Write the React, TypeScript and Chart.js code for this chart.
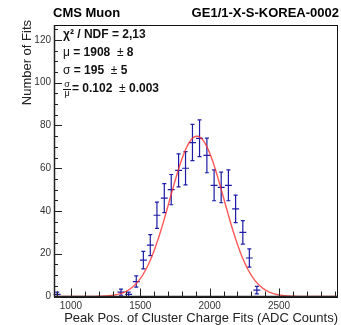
import React, { useEffect, useRef } from "react";
import { Chart, registerables } from "chart.js";

Chart.register(...registerables);

// ---- data ----
const binCenters = [901, 1361, 1416, 1471, 1522, 1572, 1620, 1673, 1723, 1776, 1826, 1876, 1927, 1980, 2032, 2083, 2135, 2187, 2239, 2286, 2340];
const counts = [1, 2, 1, 7, 17, 24, 38, 46, 50, 59, 60, 72, 74, 66, 52, 51, 52, 41, 30, 18, 3];
const binHalfWidth = 25;
const xTickLabels = [1000, 1500, 2000, 2500];
const yTickLabels = [0, 20, 40, 60, 80, 100, 120];
const fitAmplitude = 75;
const fitMean = 1908;
const fitSigma = 195;
const xMin = 878;
const xMax = 2925;
const yMin = 0;
const yMax = 127;

const FONT = '"Liberation Sans", Arial, Helvetica, sans-serif';

function gauss(x: number) {
  const z = (x - fitMean) / fitSigma;
  return fitAmplitude * Math.exp(-0.5 * z * z);
}

export default function App() {
  const ref = useRef<HTMLCanvasElement>(null);

  useEffect(() => {
    const canvas = ref.current!;
    const fitData: { x: number; y: number }[] = [];
    for (let x = xMin; x <= xMax; x += 8) fitData.push({ x, y: gauss(x) });
    const pts = binCenters.map((x, i) => ({ x, y: counts[i] }));

    const decor = {
      id: "decor",
      beforeDatasetsDraw(chart: any) {
        const ctx = chart.ctx;
        const xs = chart.scales.x;
        const ys = chart.scales.y;
        ctx.save();
        ctx.strokeStyle = "#1c1ca6";
        ctx.lineWidth = 1.2;
        binCenters.forEach((c, i) => {
          const n = counts[i];
          const err = Math.sqrt(n);
          const px = xs.getPixelForValue(c);
          const py = ys.getPixelForValue(n);
          const x0 = xs.getPixelForValue(c - binHalfWidth);
          const x1 = xs.getPixelForValue(c + binHalfWidth);
          const yt = ys.getPixelForValue(n + err);
          const yb = ys.getPixelForValue(Math.max(0, n - err));
          ctx.beginPath();
          ctx.moveTo(x0, py);
          ctx.lineTo(x1, py);
          ctx.moveTo(px, yt);
          ctx.lineTo(px, yb);
          ctx.moveTo(px - 2, yt);
          ctx.lineTo(px + 2, yt);
          ctx.moveTo(px - 2, yb);
          ctx.lineTo(px + 2, yb);
          ctx.stroke();
        });
        ctx.restore();
      },
      afterDraw(chart: any) {
        const ctx = chart.ctx;
        const a = chart.chartArea;
        const xs = chart.scales.x;
        const ys = chart.scales.y;
        ctx.save();
        // frame
        ctx.strokeStyle = "#111";
        ctx.lineWidth = 1;
        ctx.strokeRect(Math.round(a.left) + 0.5, Math.round(a.top) + 0.5, Math.round(a.right - a.left) - 1, Math.round(a.bottom - a.top));
        // axis lines (thicker)
        ctx.strokeStyle = "#222";
        ctx.lineWidth = 1.5;
        ctx.beginPath();
        ctx.moveTo(a.left + 0.5, a.top);
        ctx.lineTo(a.left + 0.5, a.bottom);
        ctx.lineTo(a.right, a.bottom);
        ctx.stroke();
        // ticks
        ctx.lineWidth = 1;
        ctx.strokeStyle = "#222";
        ctx.beginPath();
        for (let v = 900; v <= 2900; v += 100) {
          const px = Math.round(xs.getPixelForValue(v)) + 0.5;
          const len = v % 500 === 0 ? 8 : 5;
          ctx.moveTo(px, a.bottom);
          ctx.lineTo(px, a.bottom - len);
        }
        for (let v = 0; v <= 125; v += 5) {
          const py = Math.round(ys.getPixelForValue(v)) + 0.5;
          const len = v % 20 === 0 ? 8 : 4;
          ctx.moveTo(a.left, py);
          ctx.lineTo(a.left + len, py);
        }
        ctx.stroke();

        // header
        ctx.fillStyle = "#000";
        ctx.font = `bold 13px ${FONT}`;
        ctx.textBaseline = "middle";
        ctx.textAlign = "left";
        ctx.fillText("CMS Muon", 53, 13);
        ctx.textAlign = "right";
        ctx.fillText("GE1/1-X-S-KOREA-0002", 339, 13);

        // axis titles
        ctx.fillStyle = "#222";
        ctx.font = `13px ${FONT}`;
        ctx.textAlign = "right";
        ctx.textBaseline = "middle";
        ctx.fillText("Peak Pos. of Cluster Charge Fits (ADC Counts)", 338, 318);
        ctx.save();
        ctx.translate(31, 20);
        ctx.rotate(-Math.PI / 2);
        ctx.textAlign = "right";
        ctx.textBaseline = "alphabetic";
        ctx.fillText("Number of Fits", 0, 0);
        ctx.restore();

        // stats box text
        const drawSegs = (segs: [string, boolean][], x: number, y: number) => {
          ctx.textAlign = "left";
          ctx.textBaseline = "middle";
          let cx = x;
          for (const [t, b] of segs) {
            ctx.font = `${b ? "bold " : ""}12px ${FONT}`;
            ctx.fillText(t, cx, y);
            cx += ctx.measureText(t).width;
          }
        };
        ctx.fillStyle = "#111";
        drawSegs([["χ² / NDF = 2,13", true]], 63, 35);
        drawSegs([["μ", false], [" = 1908  ", true], ["±", false], [" 8", true]], 63, 53);
        drawSegs([["σ", false], [" = 195  ", true], ["±", false], [" 5", true]], 63, 71);
        // fraction sigma / mu
        ctx.font = `9px ${FONT}`;
        ctx.textAlign = "center";
        ctx.textBaseline = "middle";
        ctx.fillText("σ", 67, 85);
        ctx.fillText("μ", 67, 94);
        ctx.fillRect(63, 89, 8, 1);
        drawSegs([["= 0.102  ", true], ["±", false], [" 0.003", true]], 72, 89);
        ctx.restore();
      },
    };

    const chart = new Chart(canvas, {
      type: "scatter",
      data: {
        datasets: [
          {
            type: "line",
            data: fitData,
            borderColor: "rgba(255,45,45,0.8)",
            borderWidth: 1.4,
            pointRadius: 0,
            tension: 0,
            fill: false,
            order: 0,
          } as any,
          {
            data: pts,
            pointRadius: 0,
            showLine: false,
            order: 1,
          },
        ],
      },
      options: {
        responsive: false,
        animation: false,
        events: [],
        layout: { padding: { left: 0, right: 3, top: 25, bottom: 0 } },
        plugins: { legend: { display: false }, tooltip: { enabled: false } },
        scales: {
          x: {
            type: "linear",
            min: xMin,
            max: xMax,
            afterBuildTicks: (s: any) => {
              s.ticks = xTickLabels.map((v) => ({ value: v }));
            },
            afterFit: (s: any) => {
              s.height = 28.5;
            },
            grid: { display: false, drawTicks: false },
            border: { display: false },
            ticks: {
              font: { family: FONT, size: 10 },
              color: "#333",
              padding: 4,
              maxRotation: 0,
              autoSkip: false,
              callback: (v: any) => String(v),
            },
          },
          y: {
            type: "linear",
            min: yMin,
            max: yMax,
            afterBuildTicks: (s: any) => {
              s.ticks = yTickLabels.map((v) => ({ value: v }));
            },
            afterFit: (s: any) => {
              s.width = 54;
            },
            grid: { display: false, drawTicks: false },
            border: { display: false },
            ticks: {
              font: { family: FONT, size: 10 },
              color: "#333",
              padding: 3,
              autoSkip: false,
              callback: (v: any) => String(v),
            },
          },
        },
      },
      plugins: [decor],
    });
    return () => chart.destroy();
  }, []);

  return (
    <div style={{ position: "absolute", left: 0, top: 0, width: 341, height: 325, background: "#fff" }}>
      <canvas ref={ref} width={341} height={325} style={{ display: "block" }} />
    </div>
  );
}
